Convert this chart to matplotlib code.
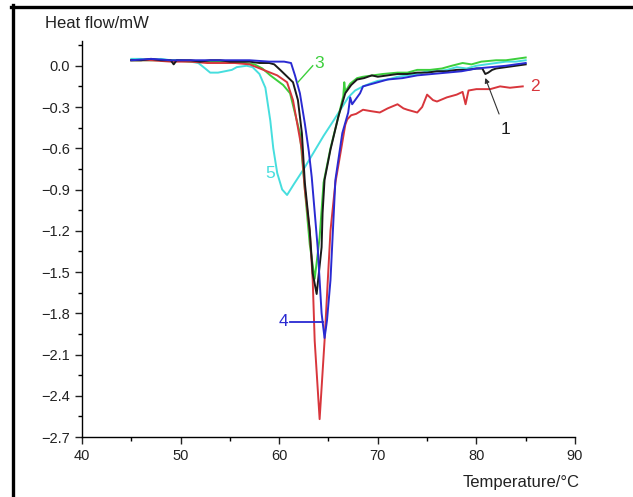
import matplotlib.pyplot as plt
from matplotlib.lines import Line2D

plt.rcParams['font.family'] = ['Liberation Sans', 'DejaVu Sans']

# curve 1 (black)
t1 = [45, 46, 47, 48, 49, 49.3, 49.6, 50, 51, 52, 53, 54, 55, 56, 57, 58, 59, 59.5, 60.1, 61.4, 61.9,
      62.3, 62.6, 63.1, 63.4, 63.8, 64.3, 64.4, 64.6, 65.2, 66.0, 66.7, 67.3, 67.9, 68.6, 69.4, 70, 71,
      72, 73, 74, 75, 76, 77, 78, 79, 80, 80.6, 80.9, 81.2, 81.6, 82, 83, 84, 85]
h1 = [0.04, 0.04, 0.05, 0.04, 0.04, 0.01, 0.04, 0.04, 0.04, 0.03, 0.04, 0.04, 0.03, 0.03, 0.03, 0.02,
      0.02, 0.01, -0.03, -0.12, -0.25, -0.49, -0.85, -1.2, -1.51, -1.66, -1.32, -1.07, -0.83, -0.61,
      -0.37, -0.2, -0.14, -0.1, -0.09, -0.07, -0.08, -0.07, -0.06, -0.06, -0.05, -0.05, -0.04, -0.04,
      -0.03, -0.03, -0.02, -0.02, -0.06, -0.05, -0.03, -0.02, -0.01, 0.0, 0.01]

# curve 2 (red)
t2 = [45, 47, 49, 51, 52.7, 54, 55.5, 57, 58.4, 59.8, 60.8, 61.4, 61.9, 62.3, 62.6, 63.1, 63.4, 63.6,
      64.1, 64.6, 65.2, 65.7, 66.3, 66.7, 66.9, 67.3, 67.8, 68.5, 69.3, 70.2, 71, 72, 72.6, 73, 74,
      74.5, 75, 75.6, 76, 77, 78, 78.6, 78.9, 79.2, 80, 81.4, 82.4, 83.4, 84.7]
h2 = [0.04, 0.04, 0.03, 0.03, 0.02, 0.02, 0.02, 0.01, -0.03, -0.07, -0.12, -0.25, -0.45, -0.61, -0.9,
      -1.2, -1.56, -2.0, -2.57, -2.0, -1.2, -0.85, -0.6, -0.43, -0.39, -0.36, -0.35, -0.32, -0.33,
      -0.34, -0.31, -0.28, -0.31, -0.32, -0.34, -0.3, -0.21, -0.25, -0.26, -0.23, -0.21, -0.19, -0.28,
      -0.18, -0.17, -0.17, -0.15, -0.16, -0.15]

# curve 3 (green)
t3 = [45, 47, 49, 51, 53, 55, 56.5, 57.5, 58.3, 59.1, 60.4, 61.1, 62.1, 62.6, 63.1, 63.6, 64.1, 64.5,
      65.2, 66.0, 66.5, 66.6, 66.7, 67.2, 67.9, 68.5, 69.5, 70.5, 72, 73, 74, 75.3, 76.5, 77.5, 78.6,
      79.5, 80.5, 82, 83, 84, 85]
h3 = [0.04, 0.04, 0.04, 0.03, 0.03, 0.03, 0.02, 0.01, -0.02, -0.07, -0.14, -0.2, -0.49, -0.9, -1.3,
      -1.55, -1.25, -0.85, -0.6, -0.37, -0.22, -0.12, -0.19, -0.13, -0.09, -0.08, -0.07, -0.06, -0.05,
      -0.05, -0.03, -0.03, -0.02, 0.0, 0.02, 0.01, 0.03, 0.04, 0.04, 0.05, 0.06]

# curve 4 (blue)
t4 = [45, 47, 49, 51, 53, 55, 57, 59, 60.5, 61.2, 61.6, 62.1, 62.6, 63.0, 63.3, 63.9, 64.3, 64.6,
      64.85, 65.2, 65.7, 66.4, 67.0, 67.2, 67.4, 68.2, 68.5, 69.5, 71, 72.5, 74, 75.5, 77, 78.5, 80,
      81.5, 83, 85]
h4 = [0.04, 0.05, 0.04, 0.04, 0.04, 0.04, 0.04, 0.03, 0.03, 0.02, -0.07, -0.2, -0.42, -0.62, -0.81,
      -1.32, -1.8, -1.98, -1.85, -1.56, -0.83, -0.49, -0.34, -0.23, -0.28, -0.2, -0.15, -0.13, -0.1,
      -0.09, -0.07, -0.06, -0.05, -0.04, -0.02, -0.01, 0.0, 0.02]

# curve 5 (cyan)
t5 = [45, 46, 47, 48, 49, 50, 51, 51.8, 52.5, 53, 53.8, 54.5, 55.2, 55.7, 56.7, 57.3, 58.0, 58.6,
      59.1, 59.4, 59.8, 60.3, 60.8, 61.5, 62.5, 63.5, 64.5, 65.5, 66.3, 67.0, 67.7, 68.5, 69.2, 70,
      71, 72, 73, 74, 75, 76, 77, 78, 79, 80, 81, 82, 83, 84, 85]
h5 = [0.05, 0.05, 0.04, 0.05, 0.04, 0.04, 0.03, 0.02, -0.02, -0.05, -0.05, -0.04, -0.03, -0.01, 0.0,
      -0.01, -0.06, -0.16, -0.4, -0.6, -0.78, -0.9, -0.94, -0.86, -0.75, -0.63, -0.51, -0.40, -0.31,
      -0.23, -0.18, -0.15, -0.13, -0.11, -0.1, -0.08, -0.07, -0.06, -0.04, -0.04, -0.03, -0.01, -0.02,
      0.0, 0.01, 0.02, 0.03, 0.03, 0.04]

xticks = [40, 50, 60, 70, 80, 90]
yticks = [0.0, -0.3, -0.6, -0.9, -1.2, -1.5, -1.8, -2.1, -2.4, -2.7]

c_black = '#1a1a1a'
c_red = '#d8363c'
c_green = '#3ccf3c'
c_blue = '#2a2ad2'
c_cyan = '#46dede'

fig = plt.figure(figsize=(6.33, 4.97), dpi=100)
ax = fig.add_axes([0.1295, 0.1207, 0.7789, 0.7968])

lw = 1.4
ax.plot(t5, h5, color=c_cyan, lw=lw)
ax.plot(t3, h3, color=c_green, lw=lw)
ax.plot(t2, h2, color=c_red, lw=lw)
ax.plot(t1, h1, color=c_black, lw=lw)
ax.plot(t4, h4, color=c_blue, lw=lw)

ax.set_xlim(40, 90)
ax.set_ylim(-2.7, 0.18)
ax.set_xticks(xticks)
ax.set_xticks([45, 55, 65, 75, 85], minor=True)
ax.set_yticks(yticks)
ax.set_yticklabels(['%.1f' % v if v == 0 else '\u2212%.1f' % abs(v) for v in yticks])
ax.set_yticks([0.15, -0.15, -0.45, -0.75, -1.05, -1.35, -1.65, -1.95, -2.25, -2.55], minor=True)
for s in ['top', 'right']:
    ax.spines[s].set_visible(False)
for s in ['left', 'bottom']:
    ax.spines[s].set_linewidth(1.0)
ax.tick_params(which='major', length=5, width=1.0, labelsize=10.5, colors='#222222')
ax.tick_params(which='minor', length=3, width=1.0)

# labels
ax.text(-0.075, 1.045, 'Heat flow/mW', transform=ax.transAxes, fontsize=12, ha='left', va='center',
        color='#222222')
ax.text(1.01, -0.115, 'Temperature/\u00b0C', transform=ax.transAxes, fontsize=12, ha='right',
        va='center', color='#222222')

# curve annotations
ax.plot([61.9, 63.4], [-0.12, 0.0], color=c_green, lw=1.0)
ax.text(63.6, 0.02, '3', color=c_green, fontsize=12.5, ha='left', va='center')
ax.text(85.4, -0.15, '2', color=c_red, fontsize=12.5, ha='left', va='center')
ax.annotate('', xy=(80.8, -0.07), xytext=(82.4, -0.37),
            arrowprops=dict(arrowstyle='-|>', color='#333333', lw=0.8, mutation_scale=7))
ax.text(82.9, -0.46, '1', color=c_black, fontsize=12.5, ha='center', va='center')
ax.plot([61.1, 64.4], [-1.86, -1.86], color=c_blue, lw=1.3)
ax.text(60.4, -1.86, '4', color=c_blue, fontsize=12.5, ha='center', va='center')
ax.text(59.1, -0.78, '5', color=c_cyan, fontsize=12.5, ha='center', va='center')

# figure frame (top and left edges)
fig.add_artist(Line2D([11 / 633, 1], [1 - 6.5 / 497, 1 - 6.5 / 497], color='black', lw=2.4,
                      transform=fig.transFigure))
fig.add_artist(Line2D([12.5 / 633, 12.5 / 633], [0, 1 - 5 / 497], color='black', lw=2.4,
                      transform=fig.transFigure))

fig.savefig('out.png', dpi=100)
